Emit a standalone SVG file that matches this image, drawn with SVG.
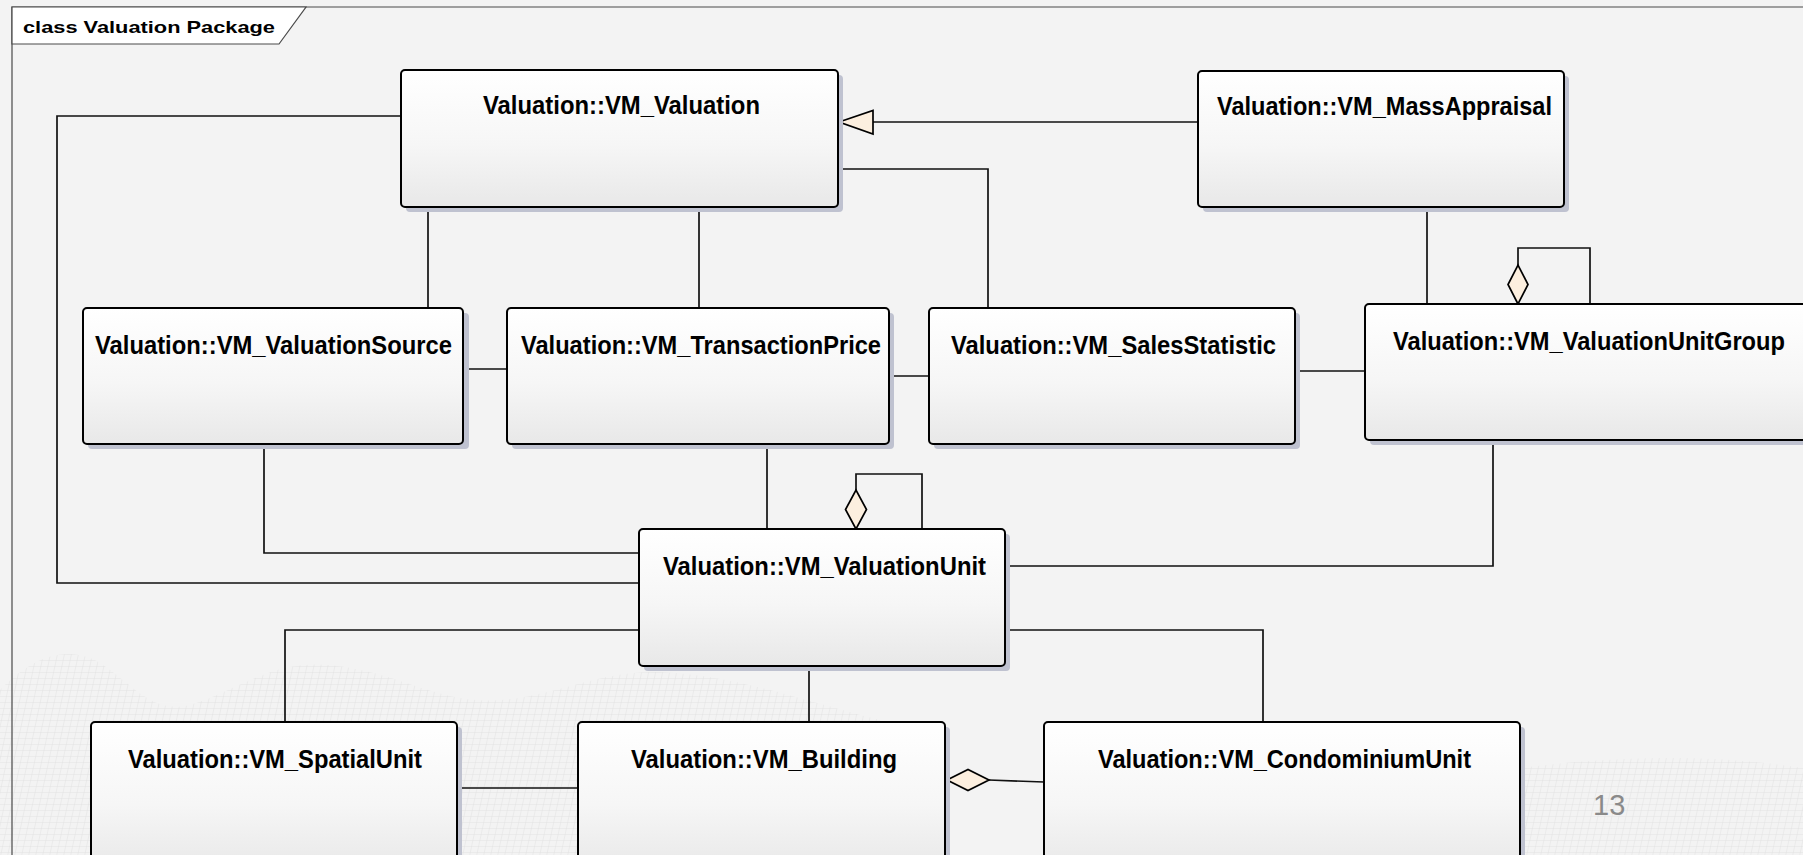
<svg xmlns="http://www.w3.org/2000/svg" width="1803" height="855" viewBox="0 0 1803 855">
<defs>
<linearGradient id="nodeFill" x1="0" y1="0" x2="0" y2="1">
<stop offset="0" stop-color="#ffffff"/>
<stop offset="0.55" stop-color="#f6f6f6"/>
<stop offset="1" stop-color="#e8e8e8"/>
</linearGradient>
<pattern id="mesh" x="0" y="0" width="7" height="6" patternUnits="userSpaceOnUse" patternTransform="skewX(-12)">
<path d="M0,0 V6 M0,0 H7" fill="none" stroke="#d2d2d2" stroke-width="0.7"/>
</pattern>
<style>
.bg{fill:#f3f3f3}
.meshfill{fill:url(#mesh);opacity:0.7}
.frame{fill:none;stroke:#4a4a4a;stroke-width:1.2}
.tab{fill:#ffffff;stroke:#4a4a4a;stroke-width:1.2}
.title{font-family:"Liberation Sans",Arial,sans-serif;font-weight:bold;font-size:17px;fill:#000}
.shadow{fill:#bfc2d0}
.box{fill:url(#nodeFill);stroke:#000;stroke-width:2}
.lbl{font-family:"Liberation Sans",Arial,sans-serif;font-weight:bold;font-size:26px;fill:#000}
.conn{fill:none;stroke:#111;stroke-width:1.7}
.head{fill:#fcefdf;stroke:#000;stroke-width:1.7;stroke-linejoin:miter}
.page{font-family:"Liberation Sans",Arial,sans-serif;font-size:29px;fill:#8a8a8a}
</style>
</defs>
<rect class="bg" x="0" y="0" width="1803" height="855"/>
<path class="meshfill" d="M0,690 C30,660 60,645 95,660 C130,680 150,715 190,705 C240,690 270,660 330,665 C400,672 440,705 500,700 C560,695 600,670 660,672 C740,676 800,700 880,720 L900,855 L0,855 Z"/>
<path class="meshfill" d="M1520,768 C1600,758 1700,752 1803,768 V855 H1520 Z"/>
<g id="frame">
<path class="frame" d="M12,855 V7 H1803"/>
<polygon class="tab" points="12,7 306,7 279,44 12,44"/>
<text class="title" x="23" y="33" textLength="252" lengthAdjust="spacingAndGlyphs">class Valuation Package</text>
</g>
<g id="connectors">
<path class="conn" d="M401,116 H57 V583 H639"/>
<path class="conn" d="M428,207 V308"/>
<path class="conn" d="M699,207 V308"/>
<path class="conn" d="M838,169 H988 V308"/>
<path class="conn" d="M1198,122 H873"/>
<polygon class="head" points="839,122 873,110.5 873,134"/>
<path class="conn" d="M463,369 H507"/>
<path class="conn" d="M889,376 H929"/>
<path class="conn" d="M1295,371 H1365"/>
<path class="conn" d="M1427,207 V304"/>
<path class="conn" d="M1518,265 V248 H1590 V304"/>
<polygon class="head" points="1518,304 1508,284.5 1518,265 1528,284.5"/>
<path class="conn" d="M264,444 V553 H639"/>
<path class="conn" d="M767,444 V529"/>
<path class="conn" d="M856,490 V474 H922 V529"/>
<polygon class="head" points="856,529 845.5,509.5 856,490 866.5,509.5"/>
<path class="conn" d="M1005,566 H1493 V440"/>
<path class="conn" d="M639,630 H285 V722"/>
<path class="conn" d="M809,666 V722"/>
<path class="conn" d="M1005,630 H1263 V722"/>
<path class="conn" d="M457,788 H578"/>
<path class="conn" d="M989,780 L1044,782"/>
<polygon class="head" points="947,780 968,769.5 989,780 968,790.5"/>
</g>
<g id="n-valuation">
<rect class="shadow" x="406" y="75" width="437" height="137" rx="4"/>
<rect class="box" x="401" y="70" width="437" height="137" rx="4"/>
<text class="lbl" x="483" y="114" textLength="277" lengthAdjust="spacingAndGlyphs">Valuation::VM_Valuation</text>
</g>
<g id="n-massappraisal">
<rect class="shadow" x="1203" y="76" width="366" height="136" rx="4"/>
<rect class="box" x="1198" y="71" width="366" height="136" rx="4"/>
<text class="lbl" x="1217" y="115" textLength="335" lengthAdjust="spacingAndGlyphs">Valuation::VM_MassAppraisal</text>
</g>
<g id="n-valuationsource">
<rect class="shadow" x="88" y="313" width="381" height="136" rx="4"/>
<rect class="box" x="83" y="308" width="380" height="136" rx="4"/>
<text class="lbl" x="95" y="354" textLength="357" lengthAdjust="spacingAndGlyphs">Valuation::VM_ValuationSource</text>
</g>
<g id="n-transactionprice">
<rect class="shadow" x="512" y="313" width="382" height="136" rx="4"/>
<rect class="box" x="507" y="308" width="382" height="136" rx="4"/>
<text class="lbl" x="521" y="354" textLength="360" lengthAdjust="spacingAndGlyphs">Valuation::VM_TransactionPrice</text>
</g>
<g id="n-salesstatistic">
<rect class="shadow" x="934" y="313" width="366" height="136" rx="4"/>
<rect class="box" x="929" y="308" width="366" height="136" rx="4"/>
<text class="lbl" x="951" y="354" textLength="325" lengthAdjust="spacingAndGlyphs">Valuation::VM_SalesStatistic</text>
</g>
<g id="n-valuationunitgroup">
<rect class="shadow" x="1370" y="309" width="470" height="136" rx="4"/>
<rect class="box" x="1365" y="304" width="470" height="136" rx="4"/>
<text class="lbl" x="1393" y="350" textLength="392" lengthAdjust="spacingAndGlyphs">Valuation::VM_ValuationUnitGroup</text>
</g>
<g id="n-valuationunit">
<rect class="shadow" x="644" y="534" width="366" height="137" rx="4"/>
<rect class="box" x="639" y="529" width="366" height="137" rx="4"/>
<text class="lbl" x="663" y="575" textLength="323" lengthAdjust="spacingAndGlyphs">Valuation::VM_ValuationUnit</text>
</g>
<g id="n-spatialunit">
<rect class="shadow" x="96" y="727" width="366" height="150" rx="4"/>
<rect class="box" x="91" y="722" width="366" height="150" rx="4"/>
<text class="lbl" x="128" y="768" textLength="294" lengthAdjust="spacingAndGlyphs">Valuation::VM_SpatialUnit</text>
</g>
<g id="n-building">
<rect class="shadow" x="583" y="727" width="367" height="150" rx="4"/>
<rect class="box" x="578" y="722" width="367" height="150" rx="4"/>
<text class="lbl" x="631" y="768" textLength="266" lengthAdjust="spacingAndGlyphs">Valuation::VM_Building</text>
</g>
<g id="n-condominiumunit">
<rect class="shadow" x="1049" y="727" width="476" height="150" rx="4"/>
<rect class="box" x="1044" y="722" width="476" height="150" rx="4"/>
<text class="lbl" x="1098" y="768" textLength="373" lengthAdjust="spacingAndGlyphs">Valuation::VM_CondominiumUnit</text>
</g>
<text class="page" x="1593" y="815">13</text>
</svg>
